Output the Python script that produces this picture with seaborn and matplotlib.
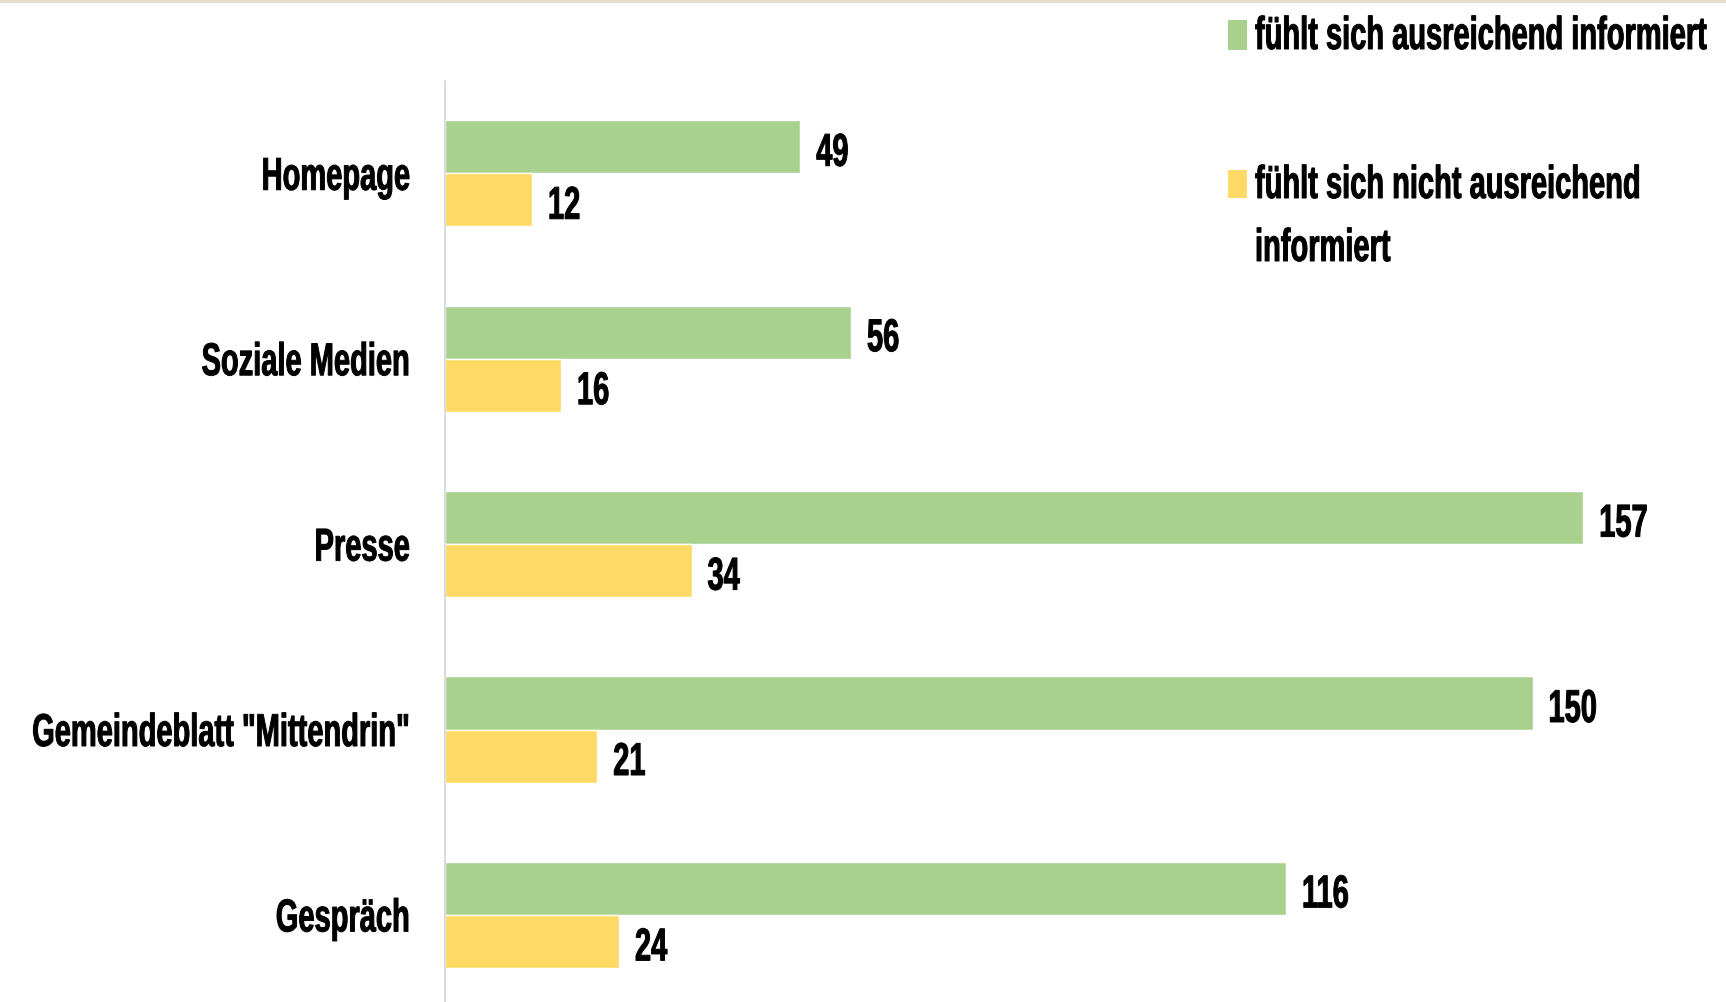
import matplotlib
matplotlib.use("Agg")
import matplotlib.pyplot as plt
import seaborn as sns
import pandas as pd
from matplotlib import font_manager
from matplotlib.patheffects import AbstractPathEffect
from matplotlib.transforms import Affine2D
from matplotlib.patches import Rectangle

# ---------------- data ----------------
categories = ["Homepage", "Soziale Medien", "Presse", "Gemeindeblatt \"Mittendrin\"", "Gespräch"]
informed = [49, 56, 157, 150, 116]
not_informed = [12, 16, 34, 21, 24]
series_names = ["fühlt sich ausreichend informiert", "fühlt sich nicht ausreichend informiert"]
legend_lines = [["fühlt sich ausreichend informiert"],
                ["fühlt sich nicht ausreichend", "informiert"]]
colors = ["#A9D18E", "#FFD966"]

df = pd.DataFrame({
    "Kategorie": categories * 2,
    "Wert": informed + not_informed,
    "Serie": [series_names[0]] * len(categories) + [series_names[1]] * len(categories),
})

# ---------------- fonts ----------------
names = {f.name for f in font_manager.fontManager.ttflist}
if "Liberation Sans Narrow" in names:
    FAMILY = ["Liberation Sans Narrow", "DejaVu Sans"]
    SX = 1.0
else:
    FAMILY = ["Liberation Sans", "DejaVu Sans"]
    SX = 0.82
FS = 25.5
SY = 1.30
STROKE = 0.7  # points, thickens glyphs a little


class Stretch(AbstractPathEffect):
    """Scale glyph outlines (condensed / tall look of the original font)."""
    def __init__(self, sx=1.0, sy=1.0, anchor="left", dy=0.0, stroke=0.0):
        super().__init__()
        self.sx, self.sy, self.anchor, self.dy = sx, sy, anchor, dy
        self.stroke = stroke

    def draw_path(self, renderer, gc, tpath, affine, rgbFace=None):
        ext = tpath.get_extents()
        if self.anchor == "right":
            x0 = ext.x1
        elif self.anchor == "center":
            x0 = (ext.x0 + ext.x1) / 2
        else:
            x0 = 0.0
        t = (Affine2D().translate(-x0, 0).scale(self.sx, self.sy).translate(x0, 0)
             + affine + Affine2D().translate(0, self.dy))
        gc0 = renderer.new_gc()
        gc0.copy_properties(gc)
        if self.stroke > 0 and rgbFace is not None:
            gc0.set_linewidth(self.stroke)
            gc0.set_foreground(rgbFace)
            gc0.set_joinstyle("round")
        renderer.draw_path(gc0, tpath, t, rgbFace)
        gc0.restore()


sns.set_theme(style="white")
plt.rcParams["font.family"] = FAMILY
plt.rcParams["font.weight"] = "bold"

W, H = 1726, 1003
fig = plt.figure(figsize=(W / 100, H / 100), dpi=100)
fig.patch.set_facecolor("white")

ax_left = 445 / W
ax_top = 1 - 81.6 / H
ax_bottom = -5.6 / H
ax = fig.add_axes([ax_left, ax_bottom, 1 - ax_left, ax_top - ax_bottom])

sns.barplot(data=df, y="Kategorie", x="Wert", hue="Serie", orient="h",
            palette=colors, width=0.572, gap=0, dodge=True, saturation=1,
            legend=False, ax=ax)

ax.set_xlim(0, (W - 445) / 7.25)
ax.set_xlabel("")
ax.set_ylabel("")
ax.set_xticks([])
for s in ["top", "right", "bottom"]:
    ax.spines[s].set_visible(False)
ax.spines["left"].set_color("#D9D9D9")
ax.spines["left"].set_linewidth(1.3)
ax.tick_params(axis="y", length=0, pad=25, labelsize=FS)
for lab in ax.get_yticklabels():
    lab.set_fontweight("bold")
    lab.set_color("black")
    lab.set_path_effects([Stretch(SX, SY, "right", dy=-3.5, stroke=STROKE)])

for cont in ax.containers:
    labels = ax.bar_label(cont, fmt="%d", padding=11.5, fontsize=FS,
                          fontweight="bold", color="black")
    for t in labels:
        t.set_path_effects([Stretch(SX, SY, "left", dy=-9.5, stroke=STROKE)])

# ---------------- legend (manual, figure pixel coords) ----------------
def fy(px_from_top):
    return 1 - px_from_top / H

leg_boxes = [(21, 51), (171, 199)]
leg_baselines = [[50], [199, 262]]
for i in range(2):
    top, bot = leg_boxes[i]
    fig.add_artist(Rectangle((1228 / W, fy(bot)), 19 / W, (bot - top) / H,
                             transform=fig.transFigure, facecolor=colors[i],
                             edgecolor="none"))
    for line, base in zip(legend_lines[i], leg_baselines[i]):
        t = fig.text(1255 / W, fy(base), line, ha="left", va="baseline",
                     fontsize=FS, fontweight="bold", color="black")
        t.set_path_effects([Stretch(SX, SY, "left", stroke=STROKE)])

# top beige strip
fig.add_artist(Rectangle((0, fy(4)), 1, 4 / H, transform=fig.transFigure,
                         facecolor="#E5DED1", edgecolor="none"))

fig.savefig("out.png", dpi=100)
